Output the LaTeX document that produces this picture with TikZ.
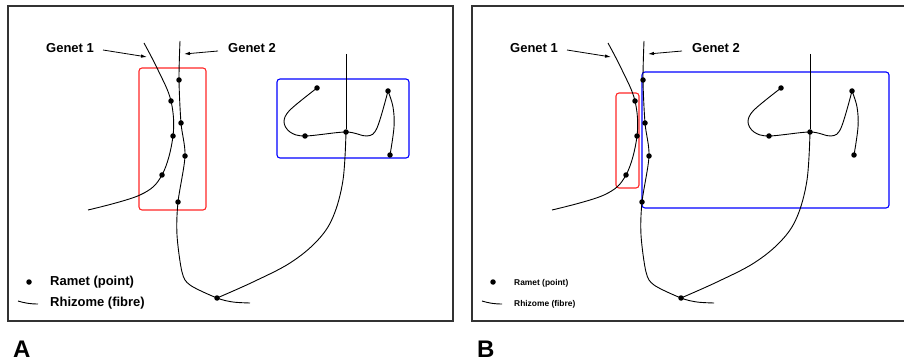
\documentclass[tikz,border=0pt]{standalone}
\usepackage{fontspec}
\setmainfont{Liberation Sans}
\usetikzlibrary{arrows.meta}
\begin{document}
\begin{tikzpicture}[x=1pt,y=-1pt,
  ramet/.style={circle,fill=black,inner sep=0pt,minimum size=5.5pt},
  fibre/.style={draw=black,line width=0.9pt},
  frame/.style={draw=black!80,line width=1.8pt},
  redbox/.style={draw=red!85,line width=1.1pt,rounded corners=3pt},
  bluebox/.style={draw=blue,line width=1.1pt,rounded corners=3pt},
  lbl/.style={font=\bfseries\fontsize{13}{15}\selectfont,inner sep=0pt,anchor=base west},
  smalllbl/.style={font=\bfseries\fontsize{8.4}{10}\selectfont,inner sep=0pt,anchor=base west},
  panellbl/.style={font=\bfseries\fontsize{24}{26}\selectfont,inner sep=0pt,anchor=base west},
  pointer/.style={draw=black,line width=0.8pt,-{Latex[length=6pt,width=3.5pt]}}]
\useasboundingbox (0,0) rectangle (904,363);
\clip (0,0) rectangle (904,363);
% panel A boxes
\draw[redbox] (139,68) rectangle (206,210);
\draw[bluebox] (277,79) rectangle (409,158);
% panel B boxes
\draw[redbox] (616,93) rectangle (639,188);
\draw[bluebox] (642,72) rectangle (889,208);
\newcommand\mypanel[2]{%
\begin{scope}[xshift=#2]
\draw[frame] (8,6) rectangle (453,321);
% Genet 1
\coordinate (#1g1a) at (144,43);
\node[ramet] (#1g1b) at (171,101) {};
\node[ramet] (#1g1c) at (173,136) {};
\node[ramet] (#1g1d) at (162,175) {};
\coordinate (#1g1e) at (88,210);
\draw[fibre] plot[smooth,tension=0.6] coordinates {(#1g1a) (158,70) (#1g1b) (#1g1c) (#1g1d) (140,195) (#1g1e)};
% Genet 2
\coordinate (#1g2a) at (180,41);
\node[ramet] (#1g2b) at (179,80) {};
\node[ramet] (#1g2c) at (181,123) {};
\node[ramet] (#1g2d) at (185,156) {};
\node[ramet] (#1g2e) at (178,202) {};
\node[ramet] (#1g2f) at (217,298) {};
\coordinate (#1g2g) at (250,303);
\draw[fibre] plot[smooth,tension=0.5] coordinates {(#1g2a) (#1g2b) (#1g2c) (#1g2d) (#1g2e) (177,235) (182,272) (190,285) (#1g2f) (233,302) (#1g2g)};
% Right genet
\coordinate (#1g3a) at (346,54);
\node[ramet] (#1g3b) at (346,132) {};
\draw[fibre] (#1g3a) -- (#1g3b);
\draw[fibre] plot[smooth,tension=0.6] coordinates {(#1g3b) (343,180) (333,217) (317,241) (290,263) (253,282) (#1g2f)};
\node[ramet] (#1g3c) at (317,88) {};
\node[ramet] (#1g3d) at (305,136) {};
\node[ramet] (#1g3e) at (388,91) {};
\node[ramet] (#1g3f) at (390,155) {};
\draw[fibre] plot[smooth,tension=0.55] coordinates {(#1g3c) (290,110) (284,122) (290,132) (#1g3d) (#1g3b) (367,136) (377,128) (#1g3e)};
\draw[fibre] plot[smooth,tension=0.6] coordinates {(#1g3e) (393,107) (394,127) (#1g3f)};
% labels
\node[lbl] (#1lg1) at (46,53) {Genet 1};
\node[lbl] (#1lg2) at (228,53) {Genet 2};
\coordinate (#1p1) at (103,50);
\coordinate (#1p1e) at (147,57);
\coordinate (#1p2) at (218,51);
\coordinate (#1p2e) at (184,54);
\draw[pointer] (#1p1) -- (#1p1e);
\draw[pointer] (#1p2) -- (#1p2e);
% legend marks
\node[ramet] (#1lr) at (29,282) {};
\coordinate (#1lf1) at (18,301);
\coordinate (#1lf2) at (38,304);
\draw[fibre] (#1lf1) to[bend right=8] (#1lf2);
\end{scope}}
\mypanel{a}{0}
\mypanel{b}{464}
\node[lbl] (aramet) at (50,285.5) {Ramet (point)};
\node[lbl] (arhiz) at (50,306) {Rhizome (fibre)};
\node[panellbl] (labA) at (13,357) {A};
\node[smalllbl] (bramet) at (514,285) {Ramet (point)};
\node[smalllbl] (brhiz) at (514,306) {Rhizome (fibre)};
\node[panellbl] (labB) at (477,357) {B};
\end{tikzpicture}
\end{document}
